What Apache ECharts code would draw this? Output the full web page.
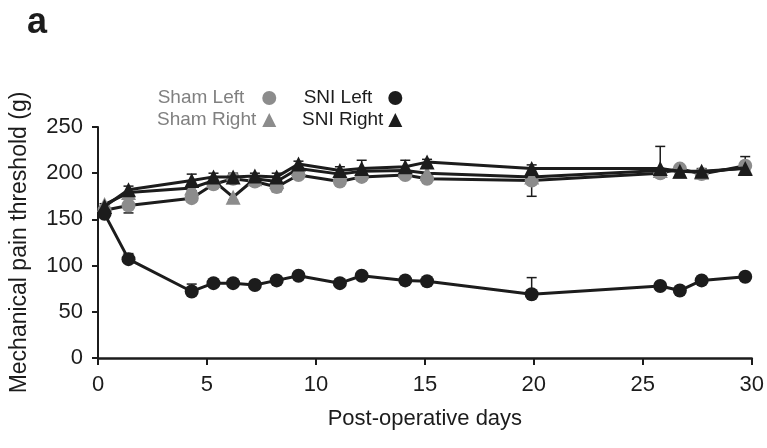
<!DOCTYPE html>
<html><head><meta charset="utf-8">
<script src="https://cdn.jsdelivr.net/npm/echarts@6/dist/echarts.min.js"></script>
<style>html,body{margin:0;padding:0;background:#fff}#c{width:767px;height:448px}</style>
</head><body><div id="c"></div>
<script>
// Post-operative days (x positions)
const days = [0.3, 1.4, 4.3, 5.3, 6.2, 7.2, 8.2, 9.2, 11.1, 12.1, 14.1, 15.1, 19.9, 25.8, 26.7, 27.7, 29.7];
// Mechanical pain threshold (g)
const shamLeft  = [160, 165, 173, 188, 194, 191, 185, 198, 191, 196, 198, 194, 192, 200, 205, 199, 208];
const shamRight = [166, 179, 184, 192, 174, 194, 191, 205, 199, 202, 203, 200, 196, 203, 202, 201, 206];
const sniLeft   = [156, 107, 72, 81, 81, 79, 84, 89, 81, 89, 84, 83, 69, 78, 73, 84, 88];
const sniRight  = [164, 182, 192, 196, 196, 197, 196, 210, 203, 205, 207, 212, 205, 205, 202, 202, 205];
// error bars (SEM): Sham drawn downward, SNI drawn upward
const shamLeftErr  = [3, 8, 4, 4, 3, 4, 5, 3, 4, 4, 3, 4, 17, 4, 3, 3, 3];
const shamRightErr = [3, 3, 3, 3, 3, 3, 3, 3, 3, 3, 3, 3, 3, 3, 3, 3, 3];
const sniLeftErr   = [3, 6, 8, 3, 3, 3, 3, 3, 3, 3, 3, 3, 18, 3, 3, 3, 3];
const sniRightErr  = [3, 4, 7, 4, 4, 3, 4, 3, 4, 9, 7, 3, 4, 24, 3, 3, 13];
const xTicks = [0, 5, 10, 15, 20, 25, 30];
const yTicks = [0, 50, 100, 150, 200, 250];

const FONT = '"Liberation Sans", Arial, sans-serif';
const DARK = '#1c1c1c';
const GRAY = '#8c8c8c';

const pairs = (vals) => days.map((d, i) => [d, vals[i]]);
const errData = (vals, errs) => days.map((d, i) => [d, vals[i], errs[i]]);

function errSeries(vals, errs, dir) {
  return {
    type: 'custom', z: 1, silent: true,
    data: errData(vals, errs),
    renderItem: function (params, api) {
      const x = api.value(0), y = api.value(1), e = api.value(2);
      const p0 = api.coord([x, y]);
      const p1 = api.coord([x, y + dir * e]);
      const cw = 5;
      return {
        type: 'group',
        children: [
          { type: 'line', shape: { x1: p0[0], y1: p0[1], x2: p1[0], y2: p1[1] }, style: { stroke: DARK, lineWidth: 1.5 } },
          { type: 'line', shape: { x1: p1[0] - cw, y1: p1[1], x2: p1[0] + cw, y2: p1[1] }, style: { stroke: DARK, lineWidth: 1.5 } }
        ]
      };
    }
  };
}

function lineSeries(name, vals, symbol, color, z) {
  return {
    name: name, type: 'line', data: pairs(vals), z: z,
    symbol: symbol, symbolSize: symbol === 'triangle' ? 15 : 14,
    showAllSymbol: true,
    itemStyle: { color: color, opacity: 1 },
    lineStyle: { color: DARK, width: 3 },
    emphasis: { disabled: true },
    animation: false
  };
}

const chart = echarts.init(document.getElementById('c'), null, { renderer: 'canvas' });
chart.setOption({
  animation: false,
  backgroundColor: '#fff',
  title: {
    text: 'a', left: 22, top: 0,
    textStyle: { fontFamily: FONT, fontSize: 36, fontWeight: 'bold', color: DARK }
  },
  legend: [
    {
      orient: 'vertical', align: 'right', left: 152, top: 83,
      itemWidth: 14, itemHeight: 14, itemGap: 2, selectedMode: false,
      textStyle: { fontFamily: FONT, fontSize: 19, lineHeight: 20, color: '#808080' },
      data: [
        { name: 'Sham Left', icon: 'circle', textStyle: { padding: [0, 13, 0, 0] } },
        { name: 'Sham Right', icon: 'triangle', textStyle: { padding: [0, 1, 0, 0] } }
      ]
    },
    {
      orient: 'vertical', align: 'right', left: 297, top: 83,
      itemWidth: 14, itemHeight: 14, itemGap: 2, selectedMode: false,
      textStyle: { fontFamily: FONT, fontSize: 19, lineHeight: 20, color: DARK },
      data: [
        { name: 'SNI Left', icon: 'circle', textStyle: { padding: [0, 11, 0, 0] } },
        { name: 'SNI Right', icon: 'triangle', textStyle: { padding: [0, 0, 0, 0] } }
      ]
    }
  ],
  grid: { left: 96, right: 11, top: 127, bottom: 90, containLabel: false },
  xAxis: {
    type: 'value', min: xTicks[0], max: xTicks[xTicks.length - 1], interval: 5,
    offset: 6,
    name: 'Post-operative days', nameLocation: 'middle', nameGap: 44,
    nameTextStyle: { fontFamily: FONT, fontSize: 22, color: DARK },
    axisLine: { show: true, lineStyle: { color: DARK, width: 2.5 } },
    axisTick: { show: true, length: 7, lineStyle: { color: DARK, width: 2 } },
    axisLabel: { fontFamily: FONT, fontSize: 22, color: DARK, margin: 10 },
    splitLine: { show: false }
  },
  yAxis: {
    type: 'value', min: yTicks[0], max: yTicks[yTicks.length - 1], interval: 50,
    offset: 5,
    name: 'Mechanical pain threshold (g)', nameLocation: 'middle', nameGap: 62,
    nameTextStyle: { fontFamily: FONT, fontSize: 23, color: DARK },
    axisLine: { show: true, lineStyle: { color: DARK, width: 2 } },
    axisTick: { show: true, length: 6, lineStyle: { color: DARK, width: 2 } },
    axisLabel: { fontFamily: FONT, fontSize: 22, color: DARK, margin: 10 },
    splitLine: { show: false }
  },
  series: [
    errSeries(shamLeft, shamLeftErr, -1),
    errSeries(shamRight, shamRightErr, -1),
    errSeries(sniLeft, sniLeftErr, 1),
    errSeries(sniRight, sniRightErr, 1),
    lineSeries('Sham Left', shamLeft, 'circle', GRAY, 2),
    lineSeries('Sham Right', shamRight, 'triangle', GRAY, 3),
    lineSeries('SNI Left', sniLeft, 'circle', DARK, 4),
    lineSeries('SNI Right', sniRight, 'triangle', DARK, 5)
  ]
});
</script>
</body></html>
